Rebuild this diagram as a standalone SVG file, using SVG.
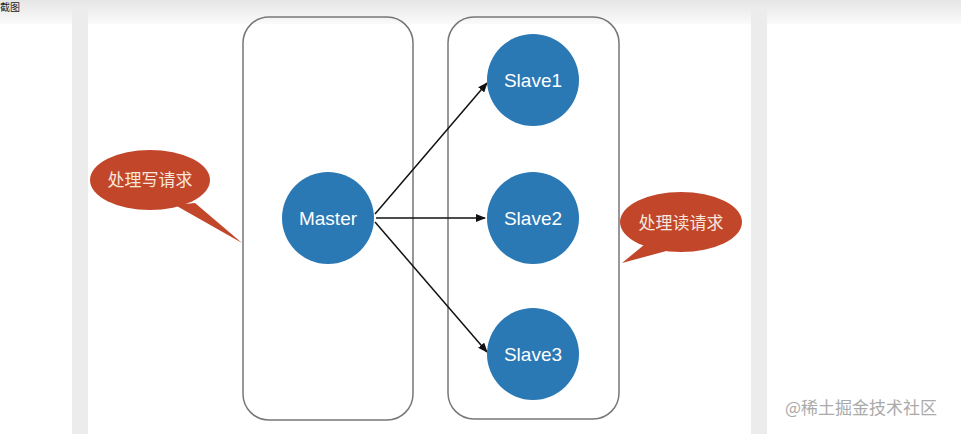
<svg xmlns="http://www.w3.org/2000/svg" width="961" height="434" viewBox="0 0 961 434">
<defs>
<marker id="ah" markerWidth="10" markerHeight="8" refX="9" refY="4" orient="auto" markerUnits="userSpaceOnUse"><path d="M0,0 L10,4 L0,8 Z" fill="#111"/></marker>
<linearGradient id="top" x1="0" y1="0" x2="0" y2="1"><stop offset="0" stop-color="#e6e6e6"/><stop offset="1" stop-color="#fafafa"/></linearGradient>
</defs>
<style>
.box{fill:none;stroke:#777;stroke-width:1.5}
.node{fill:#2a78b4}
.nt{font-family:"Liberation Sans",Arial,sans-serif;font-size:19px;fill:#fff;text-anchor:middle}
.call{fill:#c2462a}
.ct{font-family:"Noto Sans CJK SC",sans-serif;font-size:17px;fill:#f6e6dc;text-anchor:middle}
.edge{stroke:#111;stroke-width:1.5;fill:none;marker-end:url(#ah)}
</style>
<rect width="961" height="434" fill="#fff"/>
<rect width="961" height="24" fill="url(#top)"/>
<rect x="72" y="8" width="16" height="426" fill="#ececec"/>
<rect x="751" y="8" width="16" height="426" fill="#ececec"/>
<text x="0" y="11" font-family="Noto Sans CJK SC,sans-serif" font-size="10" fill="#222">截图</text>
<rect class="box" x="243" y="17" width="170" height="403" rx="26"/>
<rect class="box" x="448" y="17" width="171" height="402" rx="26"/>
<g id="edges">
<line class="edge" x1="375" y1="214" x2="487" y2="83"/>
<line class="edge" x1="376" y1="218" x2="485" y2="218"/>
<line class="edge" x1="375" y1="222" x2="487" y2="352"/>
</g>
<g id="master"><circle class="node" cx="328" cy="218" r="46"/><text class="nt" x="328" y="225">Master</text></g>
<g id="slave1"><circle class="node" cx="533" cy="80" r="46"/><text class="nt" x="533" y="87">Slave1</text></g>
<g id="slave2"><circle class="node" cx="533" cy="218" r="46"/><text class="nt" x="533" y="225">Slave2</text></g>
<g id="slave3"><circle class="node" cx="533" cy="354" r="46"/><text class="nt" x="533" y="361">Slave3</text></g>
<g id="write"><path class="call" d="M175,205 L242,243 L195,203 Z"/><ellipse class="call" cx="150" cy="180" rx="60" ry="30"/><text class="ct" x="150" y="186">处理写请求</text></g>
<g id="read"><path class="call" d="M650,240 L622,263 L670,250 Z"/><ellipse class="call" cx="681" cy="222" rx="61" ry="30"/><text class="ct" x="681" y="229">处理读请求</text></g>
<text x="785" y="414" font-family="Noto Sans CJK SC,sans-serif" font-size="17" fill="#aaa">@稀土掘金技术社区</text>
</svg>
